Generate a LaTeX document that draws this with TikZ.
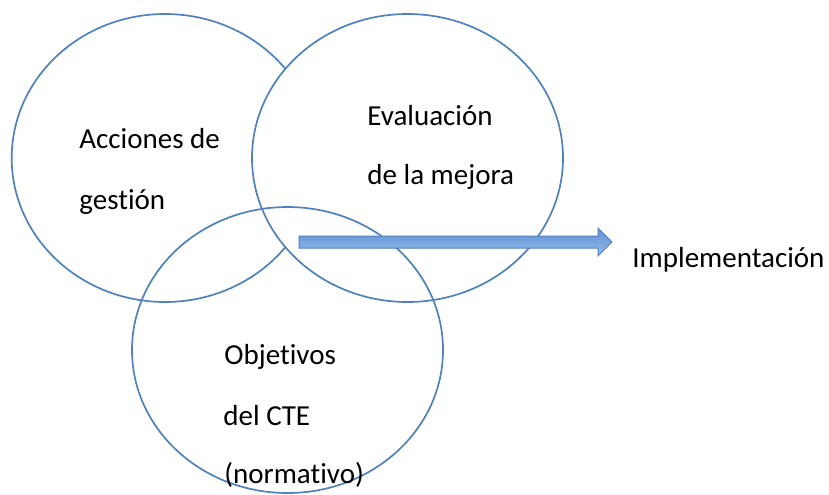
\documentclass[tikz,border=0pt]{standalone}
\usepackage{fontspec}
\setmainfont{Carlito}[Ligatures=NoCommon]
\usepackage{tikz}
\usetikzlibrary{shapes.geometric, positioning, calc}
\definecolor{lineblue}{RGB}{79,129,189}
\definecolor{arrowtop}{RGB}{96,144,210}
\definecolor{arrowbot}{RGB}{148,188,236}

\begin{document}
\begin{tikzpicture}[x=0.5pt, y=-0.5pt,
    circ/.style={ellipse, draw=lineblue, line width=0.85pt, inner sep=0pt, outer sep=0pt},
    lbl/.style={anchor=base west, inner sep=0pt, font=\fontsize{14.5pt}{17pt}\selectfont}]
    \useasboundingbox (0,0) rectangle (829,494);

    % Ellipses
    \node[circ, fill=white, minimum width=153.3pt, minimum height=144pt] (accion) at (165,158) {};
    \node[circ, fill=white, minimum width=155.5pt, minimum height=144pt] (evalua) at (407.5,158) {};
    \node[circ, minimum width=155.5pt, minimum height=143pt] (objet) at (287.5,350) {};

    % Texts
    \node[lbl] (acc1) at (79,148) {Acciones de};
    \node[lbl] (acc2) at (79,209) {gestión};
    \node[lbl] (eva1) at (367,125) {Evaluación};
    \node[lbl] (eva2) at (367,184) {de la mejora};
    \node[lbl] (obj1) at (224,364) {Objetivos};
    \node[lbl] (obj2) at (223,425) {del CTE};
    \node[lbl] (obj3) at (224,483) {(normativo)};
    \node[lbl] (impl) at (632,267) {Implementación};

    % Arrow
    \coordinate (start) at (299,242);
    \coordinate (tip) at (612,242);
    \path[draw=lineblue, line width=0.5pt, top color=arrowtop, bottom color=arrowbot]
        ($(start)+(0,-6)$) -- ($(tip)+(-14,-6)$) -- ($(tip)+(-14,-14)$) -- (tip)
        -- ($(tip)+(-14,14)$) -- ($(tip)+(-14,6)$) -- ($(start)+(0,6)$) -- cycle;
\end{tikzpicture}
\end{document}
